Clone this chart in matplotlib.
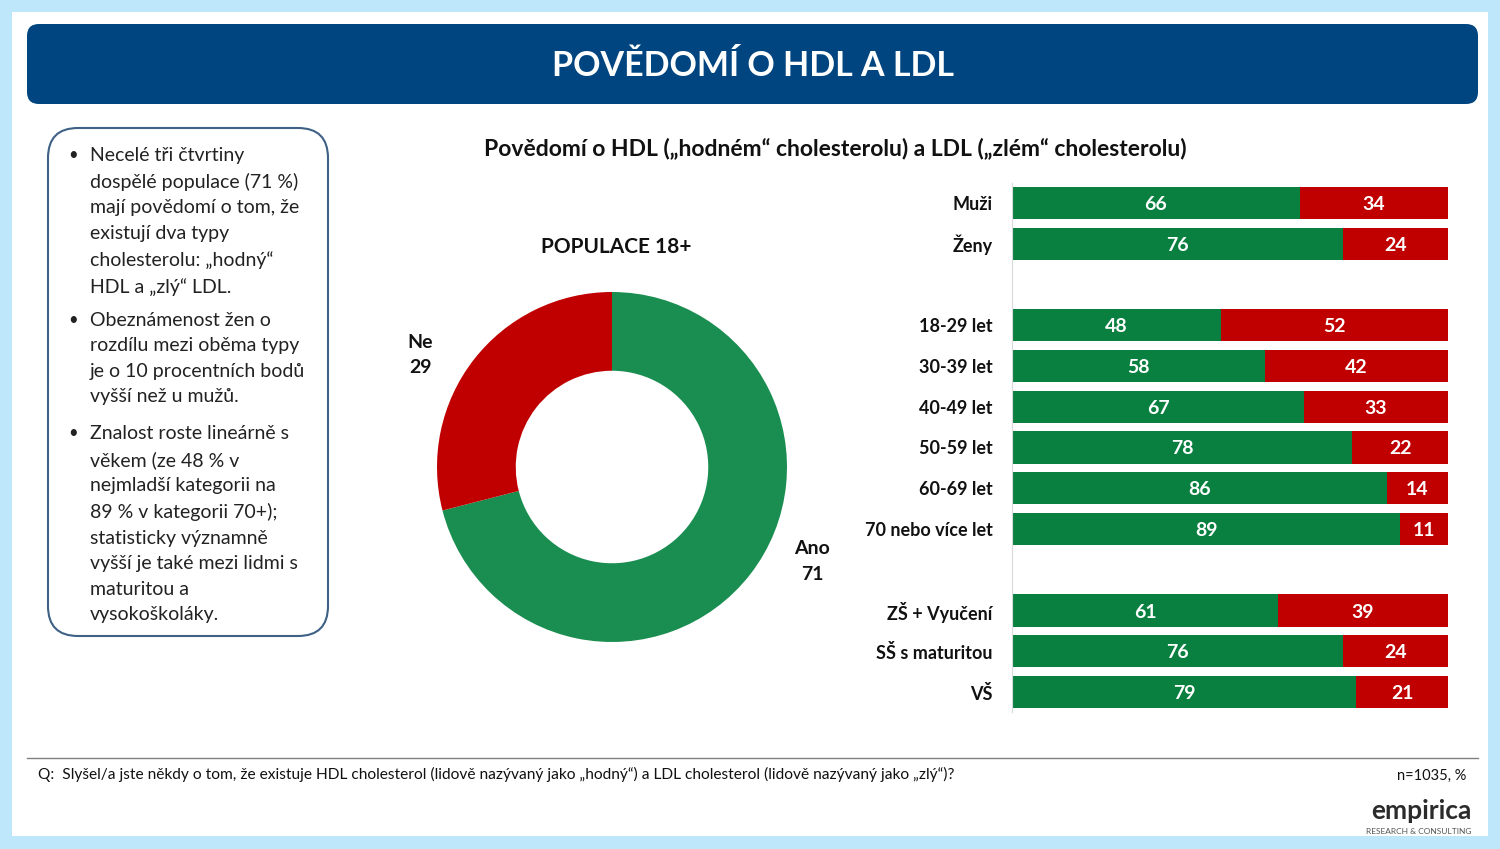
import numpy as np
import matplotlib.pyplot as plt
from matplotlib.patches import FancyBboxPatch, Rectangle

plt.rcParams['font.family'] = ['Lato', 'DejaVu Sans']

# data
donut_labels = ['Ano', 'Ne']
donut_values = [71, 29]

groups = ['Muži', 'Ženy', '', '18-29 let', '30-39 let', '40-49 let', '50-59 let',
          '60-69 let', '70 nebo více let', '', 'ZŠ + Vyučení', 'SŠ s maturitou', 'VŠ']
ano = [66, 76, None, 48, 58, 67, 78, 86, 89, None, 61, 76, 79]
ne = [34, 24, None, 52, 42, 33, 22, 14, 11, None, 39, 24, 21]

W, H = 1500, 849
GREEN_D = '#1A8E50'
GREEN_B = '#0A8040'
RED = '#C00000'
BLUE = '#00457F'

fig = plt.figure(figsize=(W / 100, H / 100), dpi=100)
fig.patch.set_facecolor('#BEE7FB')


def px_axes(x0, y0, x1, y1, **kw):
    # pixel box (top-left origin) -> figure axes
    return fig.add_axes([x0 / W, 1 - y1 / H, (x1 - x0) / W, (y1 - y0) / H], **kw)


def fx(x):
    return x / W


def fy(y):
    return 1 - y / H


# white slide + title banner
fig.patches.append(Rectangle((fx(12), fy(836)), fx(1488) - fx(12), fy(12) - fy(836),
                             transform=fig.transFigure, facecolor='white', edgecolor='none',
                             zorder=-10))
fig.patches.append(FancyBboxPatch((fx(27), fy(104)), fx(1478) - fx(27), fy(24) - fy(104),
                                  boxstyle='round,pad=0,rounding_size=0.008',
                                  transform=fig.transFigure, facecolor=BLUE, edgecolor='none',
                                  mutation_aspect=W / H, zorder=-9))
fig.text(fx(753), fy(66), 'POVĚDOMÍ O HDL A LDL', color='white', fontsize=24.5,
         fontweight='bold', ha='center', va='center')

# left text box
fig.patches.append(FancyBboxPatch((fx(48), fy(636)), fx(328) - fx(48), fy(128) - fy(636),
                                  boxstyle='round,pad=0,rounding_size=0.02',
                                  transform=fig.transFigure, facecolor='white',
                                  edgecolor='#3F6185', linewidth=1.5, mutation_aspect=W / H,
                                  zorder=-9))
bullets = [
    (155, 'Necelé tři čtvrtiny\ndospělé populace (71 %)\nmají povědomí o tom, že\nexistují dva typy\ncholesterolu: „hodný“\nHDL a „zlý“ LDL.'),
    (320, 'Obeznámenost žen o\nrozdílu mezi oběma typy\nje o 10 procentních bodů\nvyšší než u mužů.'),
    (433, 'Znalost roste lineárně s\nvěkem (ze 48 % v\nnejmladší kategorii na\n89 % v kategorii 70+);\nstatisticky významně\nvyšší je také mezi lidmi s\nmaturitou a\nvysokoškoláky.'),
]
for y, txt in bullets:
    fig.text(fx(68), fy(y), '•', fontsize=12, va='center', ha='left', color='#222222')
    fig.text(fx(90), fy(y - 8), txt, fontsize=14, va='top', ha='left',
             linespacing=1.6, color='#222222')

# subtitle
fig.text(fx(835), fy(148), 'Povědomí o HDL („hodném“ cholesterolu) a LDL („zlém“ cholesterolu)',
         fontsize=16.5, fontweight='bold', ha='center', va='center', color='#111111')

# donut
fig.text(fx(616), fy(247), 'POPULACE 18+', fontsize=15, fontweight='bold',
         ha='center', va='center', color='#111111')
ax_d = px_axes(612 - 175, 467 - 175, 612 + 175, 467 + 175)
ax_d.pie(donut_values, colors=[GREEN_D, RED], startangle=90, counterclock=False,
         radius=1, wedgeprops=dict(width=0.45, edgecolor='none'))
ax_d.set_xlim(-1, 1)
ax_d.set_ylim(-1, 1)
ax_d.set_aspect('equal')
ax_d.axis('off')
label_pos = {'Ano': (1.143, -0.54), 'Ne': (-1.097, 0.64)}
for lab, val in zip(donut_labels, donut_values):
    x, y = label_pos[lab]
    ax_d.text(x, y, f'{lab}\n{val}', fontsize=14, fontweight='bold', ha='center',
              va='center', linespacing=1.6, color='#111111', clip_on=False)

# stacked bars
ax_b = px_axes(1012, 182.6, 1448, 712.4)
pos = np.arange(len(groups))
idx = [i for i, v in enumerate(ano) if v is not None]
a_vals = np.array([ano[i] for i in idx])
n_vals = np.array([ne[i] for i in idx])
ax_b.barh(pos[idx], a_vals, height=0.79, color=GREEN_B, edgecolor='none')
ax_b.barh(pos[idx], n_vals, left=a_vals, height=0.79, color=RED, edgecolor='none')
for p, a, n in zip(pos[idx], a_vals, n_vals):
    ax_b.text(a / 2, p, str(a), color='white', fontsize=14, fontweight='bold',
              ha='center', va='center_baseline')
    ax_b.text(a + n / 2, p, str(n), color='white', fontsize=14, fontweight='bold',
              ha='center', va='center_baseline')
ax_b.set_xlim(0, 100)
ax_b.set_ylim(len(groups) - 0.5, -0.5)
ax_b.set_yticks(pos)
ax_b.set_yticklabels(groups, fontsize=13, fontweight='bold', color='#111111')
ax_b.tick_params(axis='y', length=0, pad=14)
ax_b.set_xticks([])
for s in ['top', 'right', 'bottom']:
    ax_b.spines[s].set_visible(False)
ax_b.spines['left'].set_color('#D9D9D9')
ax_b.patch.set_alpha(0)

# footer
fig.add_artist(plt.Line2D([fx(27), fx(1478)], [fy(758), fy(758)], color='#808080',
                          linewidth=1, transform=fig.transFigure))
fig.text(fx(38), fy(774), 'Q:  Slyšel/a jste někdy o tom, že existuje HDL cholesterol (lidově nazývaný jako „hodný“) a LDL cholesterol (lidově nazývaný jako „zlý“)?',
         fontsize=11.2, ha='left', va='center', color='#111111')
fig.text(fx(1466), fy(776), 'n=1035, %', fontsize=10.5, ha='right', va='center', color='#111111')
fig.text(fx(1472), fy(811), 'empirica', fontsize=19, fontweight='bold', ha='right',
         va='center', color='#2B2B2B')
fig.text(fx(1472), fy(831), 'RESEARCH & CONSULTING', fontsize=6, ha='right',
         va='center', color='#555555')

fig.savefig('out.png', dpi=100, facecolor=fig.get_facecolor())
